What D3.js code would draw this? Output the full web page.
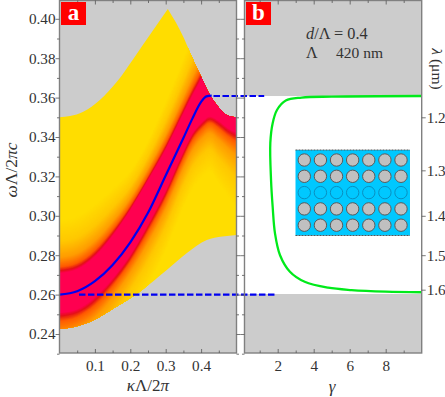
<!DOCTYPE html>
<html>
<head>
<meta charset="utf-8">
<script src="https://cdn.jsdelivr.net/npm/d3@7"></script>
<style>
html, body { margin: 0; padding: 0; background: #fff; overflow: hidden; }
svg { display: block; }
text { font-family: "Liberation Serif", serif; fill: #333; }
</style>
</head>
<body>
<svg id="chart"></svg>
<script>
// upper and lower edge of the guided region, split at the cusp
const upperLeftK = [0, 0.03, 0.067, 0.114, 0.162, 0.208, 0.256, 0.306];
const upperLeftW = [0.350, 0.3506, 0.3528, 0.3588, 0.368, 0.3795, 0.392, 0.405];
const upperRightK = [0.306, 0.352, 0.3735, 0.40, 0.425, 0.45, 0.472, 0.50];
const upperRightW = [0.405, 0.390, 0.3808, 0.3706, 0.3613, 0.3550, 0.3512, 0.350];
const lowerK = [0, 0.04, 0.0955, 0.161, 0.227, 0.303, 0.359, 0.416, 0.46, 0.50];
const lowerW = [0.2425, 0.2435, 0.247, 0.2539, 0.2615, 0.2725, 0.2810, 0.2877, 0.2895, 0.2903];

// guided mode
const modeK = [0, 0.05, 0.10, 0.15, 0.20, 0.25, 0.30, 0.35, 0.375, 0.40, 0.415, 0.43];
const modeW = [0.260, 0.2617, 0.2668, 0.2750, 0.2865, 0.3015, 0.3205, 0.3395, 0.3492, 0.3578, 0.3606, 0.361];

// colour bands round the mode: crimson core edges and where it fades out to yellow
const bandK = [0, 0.05, 0.10, 0.15, 0.20, 0.25, 0.30, 0.35, 0.375, 0.40, 0.425, 0.45, 0.475, 0.50];
const coreTop = [0.271, 0.2730, 0.2795, 0.2900, 0.3030, 0.318, 0.3338, 0.352, 0.361, 0.3695, 0.38, 0.39, 0.40, 0.41];
const coreBottom = [0.2507, 0.2525, 0.2585, 0.2680, 0.280, 0.2955, 0.3125, 0.3325, 0.3415, 0.347, 0.3503, 0.348, 0.3445, 0.342];
const fadeTop = [0.298, 0.300, 0.306, 0.314, 0.323, 0.338, 0.358, 0.380, 0.392, 0.404, 0.416, 0.428, 0.44, 0.452];
const fadeBottom = [0.214, 0.218, 0.224, 0.236, 0.250, 0.264, 0.282, 0.304, 0.313, 0.319, 0.322, 0.316, 0.310, 0.303];
const fadeStops = [0, 0.05, 0.12, 0.3, 0.6, 1];
const fadeColors = ["#ff0050", "#e41018", "#ff5a00", "#ff9c00", "#ffc800", "#ffdd00"];

// panel b
const lossW = [0.3608, 0.3605, 0.36, 0.3585, 0.3537, 0.347, 0.337, 0.3182, 0.3046, 0.2911, 0.28, 0.2716, 0.2665, 0.2635, 0.2623, 0.2615, 0.2612];
const lossG = [10, 5, 3.33, 2.45, 1.96, 1.72, 1.59, 1.63, 1.72, 1.85, 2.13, 2.68, 3.5, 4.8, 6.1, 8, 10];
const gapEdges = [0.2603, 0.3608];

// dashed links: from kappa in panel a to gamma in panel b
const dashW = [0.3608, 0.26];
const dashK = [0.435, 0.055];
const dashG = [1.25, 1.93];

// ticks
const omegaTicks = [0.24, 0.26, 0.28, 0.30, 0.32, 0.34, 0.36, 0.38, 0.40];
const omegaMinor = [0.23, 0.25, 0.27, 0.29, 0.31, 0.33, 0.35, 0.37, 0.39];
const kappaTicks = [0.1, 0.2, 0.3, 0.4];
const kappaMinor = [0.05, 0.15, 0.25, 0.35, 0.45];
const gammaTicks = [2, 4, 6, 8];
const gammaMinor = [1, 3, 5, 7, 9];
const lambdaTicks = [1.2, 1.3, 1.4, 1.5, 1.6];
const PERIOD_UM = 0.42;

// inset lattice
const latticeCols = [0, 1, 2, 3, 4, 5, 6];
const latticeRows = [0, 1, 2, 3, 4];
const DEFECT_ROW = 2;

const width = 445;
const height = 397;
const GREY = "#cccccc";
const FRAME = "#808080";

var svg = d3.select("#chart").attr("width", width).attr("height", height);
var defs = svg.append("defs");

var xA = d3.scaleLinear().domain([0, 0.5]).range([59.5, 236.5]);
var xB = d3.scaleLinear().domain([2, 8]).range([277.7, 385.7]);
var y = d3.scaleLinear().domain([0.24, 0.40]).range([334, 18.8]);
var plotTop = 0.5;
var plotBottom = 353;

function pts(k, w) {
    return k.map((d, i) => [d, w[i]]);
}

var edge = d3.line().x(d => xA(d[0])).y(d => y(d[1])).curve(d3.curveMonotoneX);

function regionPath() {
    var left = edge(pts(upperLeftK, upperLeftW));
    var right = edge(pts(upperRightK, upperRightW));
    var low = edge(pts(lowerK, lowerW).reverse());
    return left + right.replace("M", "L") + low.replace("M", "L") + "Z";
}

defs.append("clipPath").attr("id", "region").append("path").attr("d", regionPath());

// panel a
var a = svg.append("g");
a.append("rect")
    .attr("x", xA(0)).attr("y", plotTop)
    .attr("width", xA(0.5) - xA(0)).attr("height", plotBottom - plotTop)
    .attr("fill", GREY);

var heat = a.append("g").attr("clip-path", "url(#region)");
heat.append("rect")
    .attr("x", xA(0)).attr("y", plotTop)
    .attr("width", xA(0.5) - xA(0)).attr("height", plotBottom - plotTop)
    .attr("fill", "#ffdd00");

var fadeColor = d3.scaleLinear().domain(fadeStops).range(fadeColors);
var topAt = d3.interpolate(coreTop, fadeTop);
var bottomAt = d3.interpolate(coreBottom, fadeBottom);
var steps = d3.range(1, -0.001, -1 / 80);

heat.selectAll("path").data(steps).enter().append("path")
    .attr("fill", t => fadeColor(t))
    .attr("d", t => {
        var t1 = topAt(t);
        var b1 = bottomAt(t);
        return d3.area()
            .x((d, i) => xA(bandK[i]))
            .y0((d, i) => y(b1[i]))
            .y1((d, i) => y(t1[i]))
            .curve(d3.curveMonotoneX)(bandK);
    });

a.append("path")
    .attr("d", edge(pts(modeK, modeW)))
    .attr("fill", "none")
    .attr("stroke", "#0000f0")
    .attr("stroke-width", 2.2);

// panel b
var b = svg.append("g");
b.append("rect")
    .attr("x", xB(0.155)).attr("y", plotTop)
    .attr("width", xB(10) - xB(0.155)).attr("height", plotBottom - plotTop)
    .attr("fill", GREY);
b.append("rect")
    .attr("x", xB(0.155)).attr("y", y(gapEdges[1]))
    .attr("width", xB(10) - xB(0.155)).attr("height", y(gapEdges[0]) - y(gapEdges[1]))
    .attr("fill", "#fff");

// inset sketch of the waveguide
var inset = b.append("g");
var insetX = d3.scalePoint().domain(latticeCols).range([304.3, 401]);
var insetY = d3.scalePoint().domain(latticeRows).range([160, 225.2]);
inset.append("rect")
    .attr("x", 295.5).attr("y", 150).attr("width", 114.5).attr("height", 85.5)
    .attr("fill", "#00c8ff");
[150, 235.5].forEach(py => {
    inset.append("line")
        .attr("x1", 295.5).attr("x2", 410).attr("y1", py).attr("y2", py)
        .attr("stroke", "#555").attr("stroke-width", 1).attr("stroke-dasharray", "2,1");
});
latticeRows.forEach(r => {
    inset.selectAll(null).data(latticeCols).enter().append("circle")
        .attr("cx", c => insetX(c))
        .attr("cy", insetY(r))
        .attr("r", 6.2)
        .attr("fill", r == DEFECT_ROW ? "none" : "#c0c0c0")
        .attr("stroke", r == DEFECT_ROW ? "#0a8fc0" : "#5a5a5a")
        .attr("stroke-width", 1);
});

b.append("path")
    .attr("d", d3.line().x(d => xB(d[0])).y(d => y(d[1])).curve(d3.curveCatmullRom)(pts(lossG, lossW)))
    .attr("fill", "none")
    .attr("stroke", "#00ea1a")
    .attr("stroke-width", 2.3);

// dashed links across the two panels
dashW.forEach((w, i) => {
    svg.append("line")
        .attr("x1", xA(dashK[i])).attr("x2", xB(dashG[i]))
        .attr("y1", y(w)).attr("y2", y(w))
        .attr("stroke", "#0000f0")
        .attr("stroke-width", 2.2)
        .attr("stroke-dasharray", "6.5,2.5");
});

// frames and ticks
function frame(x0, x1) {
    svg.append("rect")
        .attr("x", x0).attr("y", plotTop)
        .attr("width", x1 - x0).attr("height", plotBottom - plotTop)
        .attr("fill", "none")
        .attr("stroke", FRAME)
        .attr("stroke-width", 1.4);
}

function addAxis(axis, tx, ty, size, values, withLabels) {
    var g = svg.append("g")
        .attr("transform", `translate(${tx},${ty})`)
        .call(axis.tickValues(values).tickSize(-size).tickSizeOuter(0));
    g.select(".domain").remove();
    g.selectAll("line").attr("stroke", "#555").attr("stroke-width", 0.8);
    if (!withLabels) {
        g.selectAll("text").remove();
    } else {
        g.selectAll("text").attr("font-size", 15.2).attr("fill", null);
    }
    g.attr("font-family", null).attr("font-size", null);
    return g;
}

var lambdaScale = d3.scaleLinear()
    .domain(lambdaTicks)
    .range(lambdaTicks.map(l => y(PERIOD_UM / l)));

function panelAxes(xs, x0, major, minor, fmt) {
    addAxis(d3.axisBottom(xs).tickFormat(fmt).tickPadding(4), 0, plotBottom, 4, major, true)
        .selectAll("text").attr("dy", "0.9em");
    addAxis(d3.axisBottom(xs).tickFormat(""), 0, plotBottom, 2.5, minor, false);
    addAxis(d3.axisTop(xs).tickFormat(""), 0, plotTop, 4, major, false);
    addAxis(d3.axisTop(xs).tickFormat(""), 0, plotTop, 2.5, minor, false);
    addAxis(d3.axisRight(y).tickFormat(""), x0, 0, 4, omegaTicks, false);
    addAxis(d3.axisRight(y).tickFormat(""), x0, 0, 2.5, omegaMinor, false);
}

frame(xA(0), xA(0.5));
frame(xB(0.155), xB(10));
panelAxes(xA, xA(0), kappaTicks, kappaMinor, d3.format(".1f"));
panelAxes(xB, xB(0.155), gammaTicks, gammaMinor, d3.format("d"));

addAxis(d3.axisLeft(y).tickFormat(d3.format(".2f")).tickPadding(4), xA(0), 0, 0, omegaTicks, true);
addAxis(d3.axisLeft(y).tickFormat(""), xA(0.5), 0, 4, omegaTicks, false);
addAxis(d3.axisLeft(y).tickFormat(""), xA(0.5), 0, 2.5, omegaMinor, false);
addAxis(d3.axisRight(lambdaScale).tickFormat(d3.format(".1f")).tickPadding(5), xB(10), 0, 0, lambdaTicks, true);
addAxis(d3.axisLeft(lambdaScale).tickFormat(""), xB(10), 0, 4, lambdaTicks, false);

// panel tags
[["a", 61], ["b", 246]].forEach(tag => {
    svg.append("rect")
        .attr("x", tag[1]).attr("y", 2).attr("width", 25).attr("height", 23)
        .attr("fill", "#ff0000");
    svg.append("text")
        .attr("x", tag[1] + 12.5).attr("y", 20)
        .attr("text-anchor", "middle")
        .attr("font-size", 23).attr("font-weight", "bold")
        .style("fill", "#fff")
        .text(tag[0]);
});

function mathText(x, yPos, parts, size, anchor, rotate) {
    var t = svg.append("text")
        .attr("font-size", size)
        .attr("text-anchor", anchor);
    if (rotate) {
        t.attr("transform", `translate(${x},${yPos}) rotate(${rotate})`);
    } else {
        t.attr("x", x).attr("y", yPos);
    }
    parts.forEach(p => {
        t.append("tspan")
            .attr("font-style", p[1] ? "italic" : "normal")
            .text(p[0]);
    });
    return t;
}

mathText(17, 170, [["ω", 1], ["Λ/2", 0], ["π", 1], ["c", 1]], 17.5, "middle", -90);
mathText(148, 391, [["κ", 1], ["Λ/2", 0], ["π", 1]], 17, "middle");
mathText(332, 392, [["γ", 1]], 17, "middle");
mathText(432, 69, [["λ", 1], [" (μm)", 0]], 15.5, "middle", 90);
mathText(306, 39, [["d", 1], ["/Λ = 0.4", 0]], 16.3, "start");
mathText(306, 58, [["Λ", 0]], 16, "start");
mathText(336, 58, [["420 nm", 0]], 15.5, "start");
</script>
</body>
</html>
